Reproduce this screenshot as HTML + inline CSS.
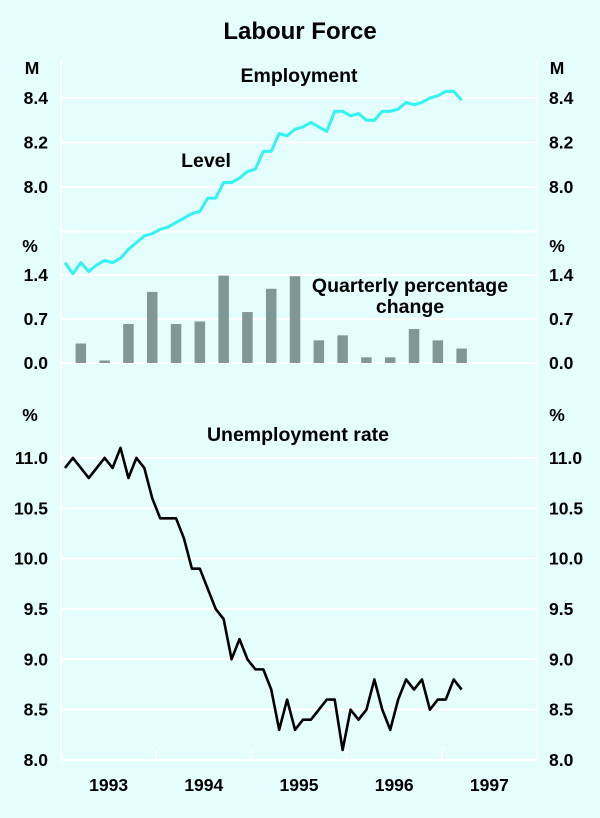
<!DOCTYPE html>
<html><head><meta charset="utf-8"><style>
body{margin:0;background:#e4fdfd;}
svg{display:block;font-family:"Liberation Sans",Arial,sans-serif;}
</style></head><body>
<svg id="c" width="600" height="818" viewBox="0 0 600 818">
<rect width="600" height="818" fill="#e4fdfd"/>
<text x="300" y="39" text-anchor="middle" font-size="24" font-weight="bold">Labour Force</text>
<g id="grid"></g>
<g id="marks"></g>
<g id="labels" font-size="17.5" font-weight="bold"></g>
</svg>
<script>
const years = ["1993","1994","1995","1996","1997"];
const empTicks = [8.0, 8.2, 8.4];
const barTicks = [0.0, 0.7, 1.4];
const unTicks = [8.0, 8.5, 9.0, 9.5, 10.0, 10.5, 11.0];
const employment = [7.66,7.61,7.66,7.62,7.65,7.67,7.66,7.68,7.72,7.75,7.78,7.79,7.81,7.82,7.84,7.86,7.88,7.89,7.95,7.95,8.02,8.02,8.04,8.07,8.08,8.16,8.16,8.24,8.23,8.26,8.27,8.29,8.27,8.25,8.34,8.34,8.32,8.33,8.30,8.30,8.34,8.34,8.35,8.38,8.37,8.38,8.40,8.41,8.43,8.43,8.39];
const quarterly = [0.31,0.04,0.62,1.13,0.62,0.66,1.39,0.81,1.18,1.38,0.36,0.44,0.09,0.09,0.54,0.36,0.23];
const unemployment = [10.9,11.0,10.9,10.8,10.9,11.0,10.9,11.1,10.8,11.0,10.9,10.6,10.4,10.4,10.4,10.2,9.9,9.9,9.7,9.5,9.4,9.0,9.2,9.0,8.9,8.9,8.7,8.3,8.6,8.3,8.4,8.4,8.5,8.6,8.6,8.1,8.5,8.4,8.5,8.8,8.5,8.3,8.6,8.8,8.7,8.8,8.5,8.6,8.6,8.8,8.7];

const NS="http://www.w3.org/2000/svg";
const X0=61, X1=537, MW=(X1-X0)/60;
const xm = i => X0 + (i+0.5)*MW;
const yEmp = v => 98 + (8.4 - v)*222.5;
const yBar = v => 363 - v*62.9;
const yUn = v => 760 - (v - 8.0)*100.7;
function mk(tag, attrs, parent){const e=document.createElementNS(NS,tag);for(const k in attrs)e.setAttribute(k,attrs[k]);document.getElementById(parent).appendChild(e);return e;}

let e;
e=mk('line',{x1:X0,y1:60,x2:X0,y2:760,stroke:'#fff','stroke-width':2},'grid');


e=mk('line',{x1:X1,y1:60,x2:X1,y2:760,stroke:'#fff','stroke-width':2},'grid');


e=mk('line',{x1:X0,y1:760,x2:X1,y2:760,stroke:'#fff','stroke-width':2},'grid');


[7.8,8.0,8.2,8.4].forEach(v=>{e=mk('line',{x1:X0,y1:yEmp(v),x2:X1,y2:yEmp(v),stroke:'#fff','stroke-width':2},'grid');

});
[0,0.7,1.4].forEach(v=>{e=mk('line',{x1:X0,y1:yBar(v),x2:X1,y2:yBar(v),stroke:'#fff','stroke-width':2},'grid');

});
unTicks.forEach(v=>{e=mk('line',{x1:X0,y1:yUn(v),x2:X1,y2:yUn(v),stroke:'#fff','stroke-width':2},'grid');

});
for(let k=1;k<years.length;k++){const x=X0+k*12*MW;
e=mk('line',{x1:x,y1:750,x2:x,y2:760,stroke:'#fff','stroke-width':2},'grid');

}

const bw=10.5;
quarterly.forEach((v,i)=>{const x=xm(2+3*i);
e=mk('rect',{x:x-bw/2,y:yBar(v),width:bw,height:yBar(0)-yBar(v),fill:'#7f9896'},'marks');

});
e=mk('polyline',{points:employment.map((v,i)=>xm(i)+','+yEmp(v)).join(' '),fill:'none',stroke:'#33f2f4','stroke-width':3,'stroke-linejoin':'round'},'marks');


e=mk('polyline',{points:unemployment.map((v,i)=>xm(i)+','+yUn(v)).join(' '),fill:'none',stroke:'#000','stroke-width':2.6,'stroke-linejoin':'round'},'marks');



function txt(s,x,y,anchor,name,fs){const t=mk('text',{x:x,y:y,'text-anchor':anchor},'labels');t.textContent=s;
if(fs)t.setAttribute('font-size',fs);

return t;}
const fmt1=v=>v.toFixed(1);
empTicks.forEach(v=>{txt(fmt1(v),48,yEmp(v)+6,'end','employment-tick-left');txt(fmt1(v),549,yEmp(v)+6,'start','employment-tick-right');});
barTicks.forEach(v=>{txt(fmt1(v),48,yBar(v)+6,'end','change-tick-left');txt(fmt1(v),549,yBar(v)+6,'start','change-tick-right');});
unTicks.forEach(v=>{txt(fmt1(v),48,yUn(v)+6,'end','unemployment-tick-left');txt(fmt1(v),549,yUn(v)+6,'start','unemployment-tick-right');});
txt('M',32,74,'middle','employment-unit-left');txt('M',557,74,'middle','employment-unit-right');
txt('%',30,252,'middle','change-unit-left');txt('%',557,252,'middle','change-unit-right');
txt('%',30,421,'middle','unemployment-unit-left');txt('%',557,421,'middle','unemployment-unit-right');
txt('Employment',299,82,'middle','employment-title',19.5);
txt('Level',206,167,'middle','level-label',19.5);
txt('Quarterly percentage',410,292,'middle','quarterly-label',19.5);
txt('change',410,313,'middle','quarterly-label-2',19.5);
txt('Unemployment rate',298,441,'middle','unemployment-title',19.5);
years.forEach((y,k)=>txt(y,X0+(k+0.5)*12*MW,791,'middle','year-label'));
</script>
</body></html>
